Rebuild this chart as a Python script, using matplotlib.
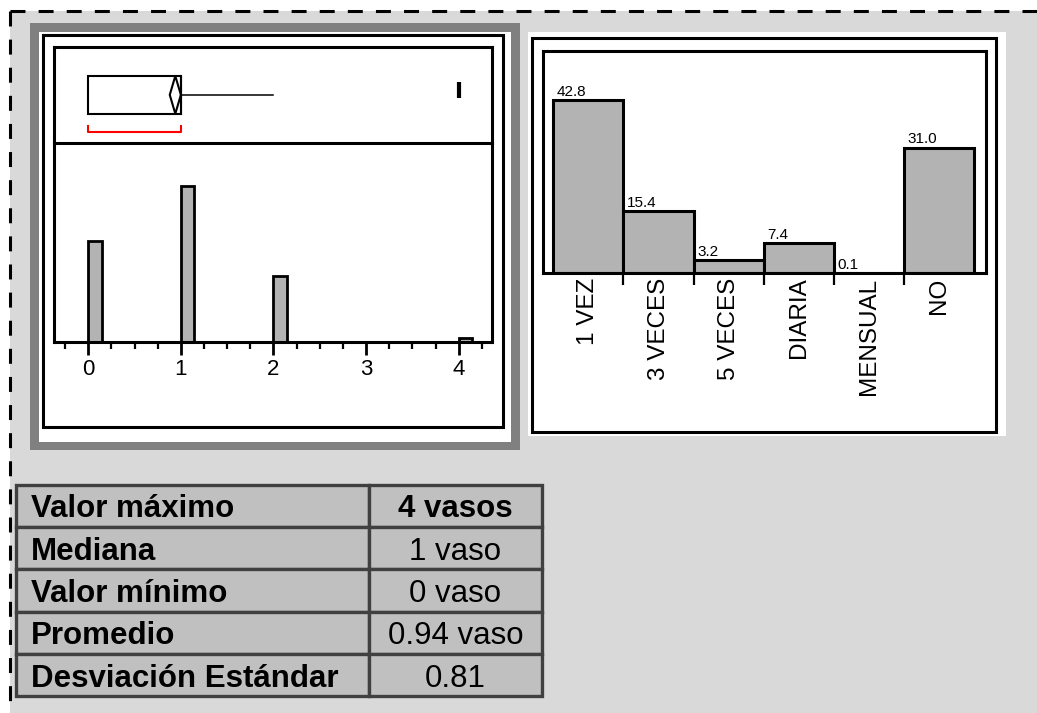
import numpy as np
import matplotlib
matplotlib.use("Agg")
import matplotlib.pyplot as plt
from matplotlib.patches import Rectangle, Polygon

plt.rcParams["font.family"] = ["Liberation Sans", "DejaVu Sans"]

W, H = 1037, 713
DPI = 100

# --- data: glasses per day (histogram, percent) ---
glass_values = [0, 1, 2, 4]
glass_pct = [31.0, 47.7, 20.1, 1.1]

# --- box-plot summary ---
q1, median, q3 = 0, 1, 1
whisker_hi = 2
outliers = [4]
mean_val = 0.94
mean_ci = 0.06
shortest_half = (0, 1)

# --- frequency chart (percent) ---
freq_labels = ["1 VEZ", "3 VECES", "5 VECES", "DIARIA", "MENSUAL", "NO"]
freq_pct = [42.8, 15.4, 3.2, 7.4, 0.1, 31.0]

# --- summary table ---
stat_names = ["Valor máximo", "Mediana", "Valor mínimo", "Promedio",
              "Desviación Estándar"]
stat_values = ["4 vasos", "1 vaso", "0 vaso", "0.94 vaso", "0.81"]

BG = "#D9D9D9"
FRAME = "#808080"
BAR = "#B3B3B3"
CELL = "#C0C0C0"
CELL_EDGE = "#404040"


def px_axes(fig, x0, y0, x1, y1):
    """Axes placed by pixel box (top-left origin)."""
    return fig.add_axes([x0 / W, 1 - y1 / H, (x1 - x0) / W, (y1 - y0) / H])


fig = plt.figure(figsize=(W / DPI, H / DPI), dpi=DPI)
fig.patch.set_facecolor("white")

bg = fig.add_axes([0, 0, 1, 1])
bg.set_xlim(0, W)
bg.set_ylim(H, 0)
bg.set_axis_off()

# page background + dashed border (top and left only)
bg.add_patch(Rectangle((9.5, 11), W, H, facecolor=BG, edgecolor="none"))
bg.plot([10, W + 5], [11, 11], color="black", lw=2.2, dashes=(4.9, 4.3),
        dash_capstyle="butt")
bg.plot([10, 10], [11, H + 5], color="black", lw=2.2, dashes=(4.9, 4.3),
        dash_capstyle="butt")

# left panel frame
bg.add_patch(Rectangle((30, 23), 490, 427, facecolor=FRAME, edgecolor="none"))
bg.add_patch(Rectangle((39, 31.7), 472, 410.3, facecolor="white", edgecolor="none"))
bg.add_patch(Rectangle((43.3, 35), 460, 391.5, facecolor="none",
                       edgecolor="black", lw=2.2))

# right panel frame
bg.add_patch(Rectangle((528, 31.5), 478, 404.5, facecolor="white", edgecolor="none"))
bg.add_patch(Rectangle((531.7, 38.3), 464.3, 393.7, facecolor="none",
                       edgecolor="black", lw=2.2))

# summary table
tx0, tx1, tx2 = 16, 369, 542
ty0, ty1 = 484.6, 696.4
row_h = (ty1 - ty0) / len(stat_names)
for i, (name, val) in enumerate(zip(stat_names, stat_values)):
    y = ty0 + i * row_h
    bg.add_patch(Rectangle((tx0, y), tx1 - tx0, row_h, facecolor=CELL,
                           edgecolor=CELL_EDGE, lw=2.4))
    bg.add_patch(Rectangle((tx1, y), tx2 - tx1, row_h, facecolor=CELL,
                           edgecolor=CELL_EDGE, lw=2.4))
    base = y + row_h / 2 + 11.5
    bg.text(31, base, name, fontsize=22.5, fontweight="bold", va="baseline")
    bg.text((tx1 + tx2) / 2, base, val, fontsize=22.5, ha="center", va="baseline",
            fontweight="bold" if i == 0 else "normal")

XLIM = (-0.370, 4.363)
SPINE_LW = 2.2

# --- histogram ---
axh = px_axes(fig, 54, 143, 492.3, 342)
axh.patch.set_facecolor("none")
axh.bar(glass_values, glass_pct, width=0.145, align="edge", color=BAR,
        edgecolor="black", lw=2)
axh.set_xlim(*XLIM)
axh.set_ylim(0, 61)
axh.set_yticks([])
axh.spines["top"].set_visible(False)
for k in ("left", "right", "bottom"):
    axh.spines[k].set_linewidth(SPINE_LW)
axh.set_xticks(range(5))
axh.set_xticks([v for v in np.arange(-0.25, 4.3, 0.25) if v % 1], minor=True)
axh.tick_params(axis="x", which="major", length=9, width=2, direction="out",
                labelsize=16, pad=3)
axh.tick_params(axis="x", which="minor", length=5, width=1.6, direction="out")

# --- box plot strip (drawn above histogram so the divider stays full width) ---
axb = px_axes(fig, 54, 46.7, 492.3, 143)
axb.set_xlim(*XLIM)
axb.set_ylim(0, 1)
axb.set_xticks([])
axb.set_yticks([])
for s in axb.spines.values():
    s.set_linewidth(SPINE_LW)
b_lo, b_hi = 0.304, 0.696
axb.add_patch(Rectangle((q1, b_lo), q3 - q1, b_hi - b_lo, facecolor="none",
                        edgecolor="black", lw=1.5))
axb.plot([median, median], [b_lo, b_hi], color="black", lw=1.5)
axb.plot([q3, whisker_hi], [0.5, 0.5], color="black", lw=1.1)
axb.add_patch(Polygon([(mean_val - mean_ci, 0.5), (mean_val, b_hi),
                       (mean_val + mean_ci, 0.5), (mean_val, b_lo)],
                      closed=True, facecolor="none", edgecolor="black", lw=1.5))
axb.plot(outliers, [0.546] * len(outliers), linestyle="none", marker="|",
         ms=11, mew=3, color="black")
s0, s1 = shortest_half
axb.plot([s0, s0, s1, s1], [0.18, 0.111, 0.111, 0.18], color="red", lw=1.5)

# --- frequency bar chart ---
axf = px_axes(fig, 543.3, 50.7, 986, 273.3)
xs = np.arange(len(freq_labels))
bars = axf.bar(xs, freq_pct, width=1.0, color=BAR, edgecolor="black", lw=2.2)
for rect, v in zip(bars, freq_pct):
    axf.annotate(f"{v:.1f}", (rect.get_x(), v), xytext=(2.5, 1),
                 textcoords="offset points", ha="left", va="bottom", fontsize=11)
axf.set_xlim(-0.643, 5.667)
axf.set_ylim(0, 55)
axf.set_yticks([])
for s in axf.spines.values():
    s.set_linewidth(SPINE_LW)
axf.set_xticks(xs)
axf.set_xticklabels(freq_labels, rotation=90, fontsize=17.5)
axf.set_xticks(xs[:-1] + 0.5, minor=True)
axf.tick_params(axis="x", which="major", length=0, pad=3)
axf.tick_params(axis="x", which="minor", length=8.5, width=1.6, direction="out")

fig.savefig("out.png", dpi=DPI, facecolor="white")
